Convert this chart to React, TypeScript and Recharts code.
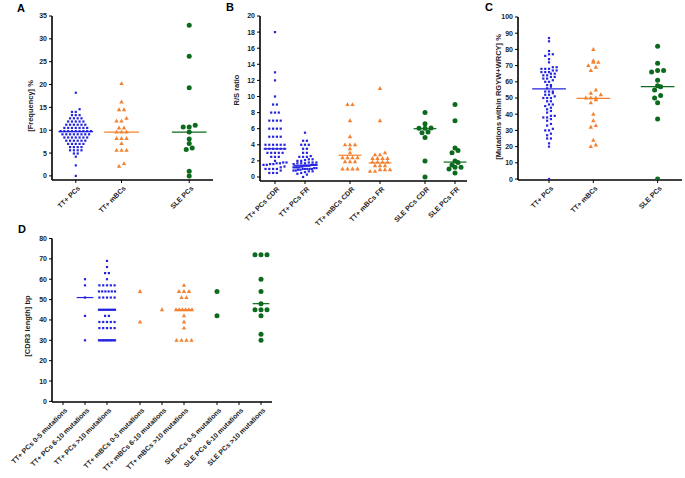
import { ScatterChart, Scatter, XAxis, YAxis, ReferenceLine } from "recharts"

const BLUE = "#2323e0"
const ORANGE = "#f4812f"
const GREEN = "#0b6a1d"
const INK = "#222"
const FONT = "'Liberation Sans', Arial, sans-serif"

// ---- panel A: frequency %
const aCats = ["TT+ PCs", "TT+ mBCs", "SLE PCs"]
const aPos = [1, 2, 3.48]
const aTicks = [0, 5, 10, 15, 20, 25, 30, 35]
const aPcs = [
  0, 2.3, 4.2, 4.9, 4.9, 5.6, 5.6, 5.6, 5.6, 6.3, 6.3, 6.3, 6.3, 7, 7, 7, 7, 7,
  7.7, 7.7, 7.7, 7.7, 7.7, 7.7, 8.4, 8.4, 8.4, 8.4, 8.4, 8.4, 8.4,
  9.1, 9.1, 9.1, 9.1, 9.1, 9.1, 9.1, 9.1, 9.8, 9.8, 9.8, 9.8, 9.8, 9.8, 9.8, 9.8, 9.8,
  10.5, 10.5, 10.5, 10.5, 10.5, 10.5, 10.5, 11.2, 11.2, 11.2, 11.2, 11.2, 11.2,
  11.9, 11.9, 11.9, 11.9, 11.9, 12.6, 12.6, 12.6, 12.6, 13.3, 13.3, 13.3, 14, 14, 14.6, 18.2,
]
const aMbcs = [2.1, 2.7, 5.6, 5.6, 5.6, 7.1, 8.2, 8.2, 8.2, 9.6, 9.6, 9.6, 10.5, 10.5, 12, 12, 12.6, 14.5, 14.5, 16.2, 20.2]
const aSle = [0, 1, 5.8, 6.1, 7.1, 8.1, 9.6, 10.7, 10.7, 11.1, 19.3, 26.2, 33]
const aMedians = [9.7, 9.6, 9.6]

// ---- panel B: R/S ratio
const bCats = ["TT+ PCs CDR", "TT+ PCs FR", "TT+ mBCs CDR", "TT+ mBCs FR", "SLE PCs CDR", "SLE PCs FR"]
const bPos = [1, 2, 3.5, 4.5, 6, 7]
const bTicks = [0, 2, 4, 6, 8, 10, 12, 14, 16, 18, 20]
const bPcsCdr = [
  0.5, 0.5, 0.5, 0.8, 1, 1, 1, 1, 1.2, 1.3, 1.5, 1.5, 1.6, 1.6, 1.7, 1.7, 1.8, 1.8, 2,
  2.5, 2.5, 2.5, 3, 3, 3, 3, 3, 3.5, 3.5, 3.5, 3.5, 3.5, 3.5, 4, 4, 4, 4, 4, 4,
  5, 5, 5, 5, 6, 6, 6, 6, 7, 7, 7, 7, 8, 8, 8, 9, 9, 10, 12, 13, 18,
]
const bPcsFr = [
  0, 0.3, 0.4, 0.5, 0.6, 0.7, 0.7, 0.8, 0.8, 0.9, 0.9, 1, 1, 1, 1, 1, 1.1, 1.1,
  1.2, 1.2, 1.2, 1.2, 1.3, 1.3, 1.4, 1.4, 1.4, 1.4, 1.5, 1.5, 1.5, 1.5, 1.6, 1.7, 1.7, 1.7,
  1.8, 1.8, 1.8, 2, 2, 2.1, 2.2, 2.2, 2.5, 2.5, 2.5, 2.6, 3, 3, 3.5, 3.5, 4, 4, 4, 4.5, 4.5, 5.5,
]
const bMbcsCdr = [1, 1, 1, 1, 1.9, 1.9, 1.9, 2.4, 2.4, 2.4, 2.4, 3, 3.5, 4, 4, 4, 5, 7, 9, 9]
const bMbcsFr = [0.7, 0.7, 0.9, 0.9, 0.9, 1.4, 1.4, 1.4, 1.85, 1.85, 1.85, 1.85, 2.3, 2.3, 2.3, 2.3, 2.75, 2.75, 3, 7, 11]
const bSleCdr = [0, 2, 4.9, 5.5, 5.6, 6.05, 6.05, 6.1, 6.6, 8]
const bSleFr = [0.5, 1, 1.2, 1.2, 1.5, 1.8, 2, 3, 3.3, 3.6, 7, 9]
const bMedians = [3.5, 1.45, 2.7, 1.75, 6, 1.85]

// ---- panel C: mutations within RGYW+WRCY %
const cCats = ["TT+ PCs", "TT+ mBCs", "SLE PCs"]
const cPos = [1, 2, 3.45]
const cTicks = [0, 10, 20, 30, 40, 50, 60, 70, 80, 90, 100]
const cPcs = [
  0, 20, 22, 25, 25, 27, 28, 30, 30, 31, 33, 34, 36, 37, 38, 38, 39, 39, 41, 42, 43, 44,
  45, 46, 46, 48, 48, 50, 50, 50, 51, 52, 52, 53, 54, 54, 54, 56, 57, 58, 58, 60, 60, 61,
  62, 62, 63, 63, 64, 64, 65, 65, 66, 66, 66, 67, 67, 68, 68, 68, 69, 69, 72, 74, 76, 77, 77, 79, 85, 87,
]
const cMbcs = [20, 21, 24, 32, 33, 36, 40, 47, 49, 50, 50, 50, 52, 53, 55, 67, 69, 70, 72, 72, 73, 80]
const cSle = [0, 37, 47, 50, 51.5, 55, 57, 57.5, 61, 66, 67, 67, 71.5, 82]
const cMedians = [55.7, 49.8, 57]

// ---- panel D: CDR3 length bp
const dCats = [
  "TT+ PCs 0-5 mutations", "TT+ PCs 6-10 mutations", "TT+ PCs >10 mutations",
  "TT+ mBCs 0-5 mutations", "TT+ mBCs 6-10 mutations", "TT+ mBCs >10 mutations",
  "SLE PCs 0-5 mutations", "SLE PCs 6-10 mutations", "SLE PCs >10 mutations",
]
const dPos = [1, 2, 3, 4.5, 5.5, 6.5, 8, 9, 10]
const dTicks = [0, 10, 20, 30, 40, 50, 60, 70, 80]
const dPcs610 = [30, 42, 51, 57, 60]
const dPcs10 = [
  30, 30, 30, 30, 30, 30, 30, 30, 30, 30, 30, 30, 30, 36, 36, 36, 36, 36, 39, 39, 39, 39, 39,
  42, 42, 45, 45, 45, 45, 45, 45, 45, 45, 45, 45, 51, 51, 51, 51, 51, 54, 54, 54, 54, 54, 54,
  57, 57, 57, 57, 57, 60, 63, 63, 66, 69,
]
const dMbcs05 = [39, 54]
const dMbcs610 = [45]
const dMbcs10 = [30, 30, 30, 30, 36, 39, 42, 45, 45, 45, 45, 45, 45, 51, 51, 54, 54, 54, 57]
const dSle05 = [42, 54]
const dSle10 = [30, 33, 42, 45, 45, 45, 48, 54, 60, 72, 72, 72]
const dMedians = [51, 45, 45, 48]

type Pt = { x: number; y: number }

const Square = (p: any) => <rect x={p.cx - 1.1} y={p.cy - 1.1} width={2.2} height={2.2} fill={BLUE} />
const Tri = (p: any) => (
  <polygon points={`${p.cx},${p.cy - 2.4} ${p.cx + 2.2},${p.cy + 1.5} ${p.cx - 2.2},${p.cy + 1.5}`} fill={ORANGE} />
)
const Dot = (p: any) => <circle cx={p.cx} cy={p.cy} r={2.5} fill={GREEN} />

const MARK: Record<string, { color: string; rowPx: number; stepPx: number; Shape: any }> = {
  pc: { color: BLUE, rowPx: 3, stepPx: 3.8, Shape: Square },
  mbc: { color: ORANGE, rowPx: 3.5, stepPx: 5, Shape: Tri },
  sle: { color: GREEN, rowPx: 4, stepPx: 6, Shape: Dot },
}

// prism-like column scatter: close values share a row and get spread sideways
function swarm(values: number[], at: number, kind: string, xPx: number, yPx: number, maxPx: number): Pt[] {
  const m = MARK[kind]
  const sorted = [...values].sort((a, b) => a - b)
  const rows: number[][] = []
  let cur: number[] = []
  let start = 0
  for (const v of sorted) {
    if (cur.length && (v - start) * yPx < m.rowPx) cur.push(v)
    else {
      if (cur.length) rows.push(cur)
      cur = [v]
      start = v
    }
  }
  if (cur.length) rows.push(cur)
  const out: Pt[] = []
  for (const r of rows) {
    const n = r.length
    const step = n > 1 ? Math.min(m.stepPx, maxPx / (n - 1)) : 0
    r.forEach((v, i) => out.push({ x: at + ((i - (n - 1) / 2) * step) / xPx, y: v }))
  }
  return out
}

function SlantTick(props: any) {
  const { x, y, payload, cats, pos } = props
  const i = pos.findIndex((p: number) => Math.abs(p - payload.value) < 1e-6)
  const tx = x + 3
  const ty = y + 2
  return (
    <text
      x={tx}
      y={ty}
      transform={`rotate(-45 ${tx} ${ty})`}
      textAnchor="end"
      dy="0.35em"
      fontSize={7}
      fontWeight="bold"
      fill={INK}
      fontFamily={FONT}
    >
      {cats[i]}
    </text>
  )
}

type Geo = {
  left: number
  top: number
  width: number
  height: number
  margin: { top: number; right: number; bottom: number; left: number }
  yWidth: number
  xHeight: number
  x: [number, number]
  y: [number, number]
  maxPx: number
}

type Group = { values: number[]; at: number; kind: string; median?: number }

function Panel({ g, cats, pos, yTicks, groups }: { g: Geo; cats: string[]; pos: number[]; yTicks: number[]; groups: Group[] }) {
  const plotW = g.width - g.margin.left - g.margin.right - g.yWidth
  const plotH = g.height - g.margin.top - g.margin.bottom - g.xHeight
  const xPx = plotW / (g.x[1] - g.x[0])
  const yPx = plotH / (g.y[1] - g.y[0])
  return (
    <div style={{ position: "absolute", left: g.left, top: g.top }}>
      <ScatterChart width={g.width} height={g.height} margin={g.margin}>
        <XAxis
          type="number"
          dataKey="x"
          domain={g.x}
          ticks={pos}
          interval={0}
          allowDataOverflow
          height={g.xHeight}
          tickSize={3}
          tickLine={{ stroke: "#000", strokeWidth: 1 }}
          axisLine={{ stroke: "#000", strokeWidth: 1.6 }}
          tick={(p: any) => <SlantTick {...p} cats={cats} pos={pos} />}
        />
        <YAxis
          type="number"
          dataKey="y"
          domain={g.y}
          ticks={yTicks}
          interval={0}
          allowDataOverflow
          width={g.yWidth}
          tickSize={3}
          tickLine={{ stroke: "#000", strokeWidth: 1 }}
          axisLine={{ stroke: "#000", strokeWidth: 1.6 }}
          tick={{ fontSize: 7, fontWeight: "bold", fill: INK, fontFamily: FONT }}
        />
        {groups.map((gr, i) => (
          <Scatter
            key={i}
            data={swarm(gr.values, gr.at, gr.kind, xPx, yPx, g.maxPx)}
            shape={MARK[gr.kind].Shape}
            isAnimationActive={false}
          />
        ))}
        {groups
          .filter((gr) => gr.median != null)
          .map((gr, i) => (
            <ReferenceLine
              key={"m" + i}
              segment={[
                { x: gr.at - 0.38, y: gr.median },
                { x: gr.at + 0.38, y: gr.median },
              ]}
              stroke={MARK[gr.kind].color}
              strokeWidth={1.2}
            />
          ))}
      </ScatterChart>
    </div>
  )
}

const geoA: Geo = { left: 0, top: 0, width: 225, height: 240, margin: { top: 16, right: 12, bottom: 0, left: 22 }, yWidth: 30, xHeight: 60, x: [0.48, 4.0], y: [-0.9, 35], maxPx: 34 }
const geoB: Geo = { left: 225, top: 0, width: 250, height: 241, margin: { top: 16, right: 8, bottom: 0, left: 10 }, yWidth: 25, xHeight: 60, x: [0.5, 7.4], y: [-0.5, 20], maxPx: 23 }
const geoC: Geo = { left: 455, top: 0, width: 230, height: 240, margin: { top: 17, right: 3, bottom: 0, left: 33 }, yWidth: 30, xHeight: 60, x: [0.3, 4.0], y: [-0.6, 100], maxPx: 24 }
const geoD: Geo = { left: 0, top: 225, width: 285, height: 253, margin: { top: 13.5, right: 13, bottom: 0, left: 22 }, yWidth: 30, xHeight: 76, x: [0.5, 10.5], y: [-0.3, 80], maxPx: 16 }

export default function App() {
  const txt = { fontFamily: FONT, fontWeight: "bold" as const, fill: INK }
  return (
    <div style={{ position: "absolute", left: 0, top: 0, width: 685, height: 478, background: "#fff", overflow: "hidden" }}>
      <Panel
        g={geoA}
        cats={aCats}
        pos={aPos}
        yTicks={aTicks}
        groups={[
          { values: aPcs, at: aPos[0], kind: "pc", median: aMedians[0] },
          { values: aMbcs, at: aPos[1], kind: "mbc", median: aMedians[1] },
          { values: aSle, at: aPos[2], kind: "sle", median: aMedians[2] },
        ]}
      />
      <Panel
        g={geoB}
        cats={bCats}
        pos={bPos}
        yTicks={bTicks}
        groups={[
          { values: bPcsCdr, at: bPos[0], kind: "pc", median: bMedians[0] },
          { values: bPcsFr, at: bPos[1], kind: "pc", median: bMedians[1] },
          { values: bMbcsCdr, at: bPos[2], kind: "mbc", median: bMedians[2] },
          { values: bMbcsFr, at: bPos[3], kind: "mbc", median: bMedians[3] },
          { values: bSleCdr, at: bPos[4], kind: "sle", median: bMedians[4] },
          { values: bSleFr, at: bPos[5], kind: "sle", median: bMedians[5] },
        ]}
      />
      <Panel
        g={geoC}
        cats={cCats}
        pos={cPos}
        yTicks={cTicks}
        groups={[
          { values: cPcs, at: cPos[0], kind: "pc", median: cMedians[0] },
          { values: cMbcs, at: cPos[1], kind: "mbc", median: cMedians[1] },
          { values: cSle, at: cPos[2], kind: "sle", median: cMedians[2] },
        ]}
      />
      <Panel
        g={geoD}
        cats={dCats}
        pos={dPos}
        yTicks={dTicks}
        groups={[
          { values: dPcs610, at: dPos[1], kind: "pc", median: dMedians[0] },
          { values: dPcs10, at: dPos[2], kind: "pc", median: dMedians[1] },
          { values: dMbcs05, at: dPos[3], kind: "mbc" },
          { values: dMbcs610, at: dPos[4], kind: "mbc" },
          { values: dMbcs10, at: dPos[5], kind: "mbc", median: dMedians[2] },
          { values: dSle05, at: dPos[6], kind: "sle" },
          { values: dSle10, at: dPos[8], kind: "sle", median: dMedians[3] },
        ]}
      />
      <svg width={685} height={478} style={{ position: "absolute", left: 0, top: 0, pointerEvents: "none" }}>
        <text x={17} y={12} fontSize={11} {...txt} fill="#000">A</text>
        <text x={226} y={11} fontSize={11} {...txt} fill="#000">B</text>
        <text x={485} y={11} fontSize={11} {...txt} fill="#000">C</text>
        <text x={18} y={233} fontSize={11} {...txt} fill="#000">D</text>
        <text transform="translate(30 106) rotate(-90)" textAnchor="middle" dy="0.35em" fontSize={7.5} {...txt}>[Frequency] %</text>
        <text transform="translate(236 90) rotate(-90)" textAnchor="middle" dy="0.35em" fontSize={7.5} {...txt}>R/S ratio</text>
        <text transform="translate(498 97) rotate(-90)" textAnchor="middle" dy="0.35em" fontSize={7.5} {...txt}>[Mutations within RGYW+WRCY] %</text>
        <text transform="translate(27 326) rotate(-90)" textAnchor="middle" dy="0.35em" fontSize={7.5} {...txt}>[CDR3 length] bp</text>
      </svg>
    </div>
  )
}
